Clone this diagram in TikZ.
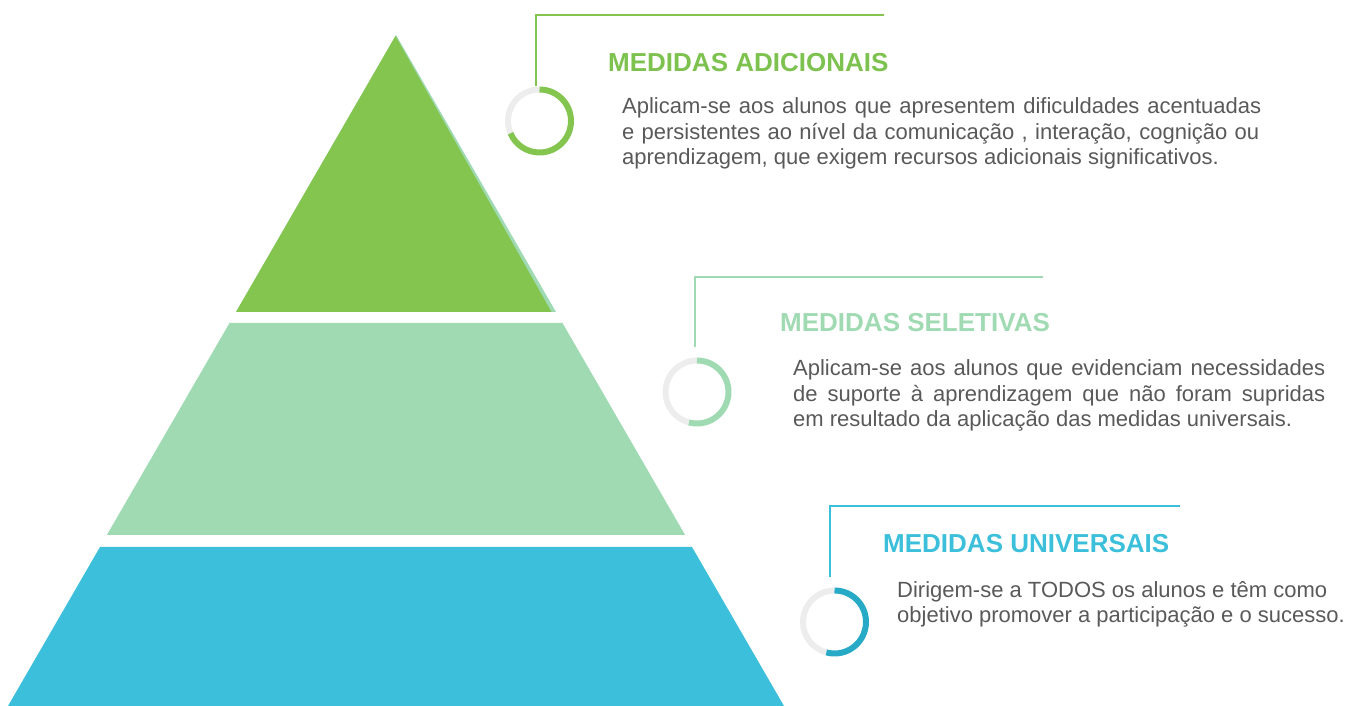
\documentclass[tikz,border=0pt]{standalone}
\usepackage{fontspec}
\setmainfont{Liberation Sans}
\definecolor{cgreen}{HTML}{84C550}
\definecolor{ctgreen}{HTML}{7DC24E}
\definecolor{clgreen}{HTML}{A0DAB3}
\definecolor{cblue}{HTML}{3CBFDA}
\definecolor{cdblue}{HTML}{26AAC6}
\definecolor{cring}{HTML}{EDEDED}
\definecolor{ctext}{HTML}{595959}
\tikzset{
  titletext/.style={anchor=base west,inner sep=0pt,font=\bfseries\fontsize{26}{30}\selectfont},
  bodytext/.style={anchor=base west,inner sep=0pt,text=ctext,font=\fontsize{22}{26}\selectfont},
  leader/.style={line width=1.5pt},
  ringbase/.style={line width=6pt,draw=cring},
  ringarc/.style={line width=6pt},
}
\begin{document}
\begin{tikzpicture}[x=1pt,y=1pt]
\useasboundingbox (0,0) rectangle (1355,706);
% pyramid coordinates
\coordinate (apex) at (396,671);
\coordinate (g-l) at (236,394);
\coordinate (g-r) at (556,394);
\coordinate (lg-tl) at (229.5,383);
\coordinate (lg-tr) at (562.5,383);
\coordinate (lg-bl) at (106.9,171);
\coordinate (lg-br) at (685.1,171);
\coordinate (b-tl) at (100,159);
\coordinate (b-tr) at (692,159);
\coordinate (b-bl) at (8,0);
\coordinate (b-br) at (784,0);
% top band with light edge
\fill[clgreen] (apex) -- (g-r) -- (g-l) -- cycle;
\fill[cgreen] (395.5,670) -- (551.5,394) -- (g-l) -- cycle;
% middle band
\fill[clgreen] (lg-tl) -- (lg-tr) -- (lg-br) -- (lg-bl) -- cycle;
% bottom band
\fill[cblue] (b-tl) -- (b-tr) -- (b-br) -- (b-bl) -- cycle;

% ---- callout 1 ----
\coordinate (h1e) at (884,691);
\coordinate (h1c) at (536,691);
\coordinate (v1e) at (536,620);
\coordinate (r1) at (539.5,585);
\draw[leader,draw=cgreen] (h1e) -- (h1c) -- (v1e);
\draw[ringbase] (r1) ++(90:31.5pt) arc[start angle=90,end angle=203,radius=31.5pt];
\draw[ringarc,draw=cgreen] (r1) ++(90:31.5pt) arc[start angle=90,end angle=-157,radius=31.5pt];
\node[titletext,text=ctgreen] (t1) at (608,634) {MEDIDAS ADICIONAIS};
\node[bodytext] (d1a) at (622,592) {\makebox[639pt][s]{Aplicam-se aos alunos que apresentem dificuldades acentuadas}};
\node[bodytext] (d1b) at (622,566) {\makebox[637pt][s]{e persistentes ao nível da comunicação , interação, cognição ou}};
\node[bodytext] (d1c) at (622,541) {aprendizagem, que exigem recursos adicionais significativos.};

% ---- callout 2 ----
\coordinate (h2e) at (1043,429);
\coordinate (h2c) at (695,429);
\coordinate (v2e) at (695,359);
\coordinate (r2) at (697,314);
\draw[leader,draw=clgreen] (h2e) -- (h2c) -- (v2e);
\draw[ringbase] (r2) ++(90:31.5pt) arc[start angle=90,end angle=255,radius=31.5pt];
\draw[ringarc,draw=clgreen] (r2) ++(90:31.5pt) arc[start angle=90,end angle=-105,radius=31.5pt];
\node[titletext,text=clgreen] (t2) at (780,374) {MEDIDAS SELETIVAS};
\node[bodytext] (d2a) at (793,330) {\makebox[532pt][s]{Aplicam-se aos alunos que evidenciam necessidades}};
\node[bodytext] (d2b) at (793,304.5) {\makebox[532pt][s]{de suporte à aprendizagem que não foram supridas}};
\node[bodytext] (d2c) at (793,279) {em resultado da aplicação das medidas universais.};

% ---- callout 3 ----
\coordinate (h3e) at (1180,200);
\coordinate (h3c) at (830,200);
\coordinate (v3e) at (830,129);
\coordinate (r3) at (834.5,84);
\draw[leader,draw=cblue] (h3e) -- (h3c) -- (v3e);
\draw[ringbase] (r3) ++(90:31.5pt) arc[start angle=90,end angle=255,radius=31.5pt];
\draw[ringarc,draw=cdblue] (r3) ++(90:31.5pt) arc[start angle=90,end angle=-105,radius=31.5pt];
\node[titletext,text=cblue] (t3) at (883,153) {MEDIDAS UNIVERSAIS};
\node[bodytext] (d3a) at (897,108.5) {Dirigem-se a TODOS os alunos e têm como};
\node[bodytext] (d3b) at (897,83) {objetivo promover a participação e o sucesso.};
\end{tikzpicture}
\end{document}
